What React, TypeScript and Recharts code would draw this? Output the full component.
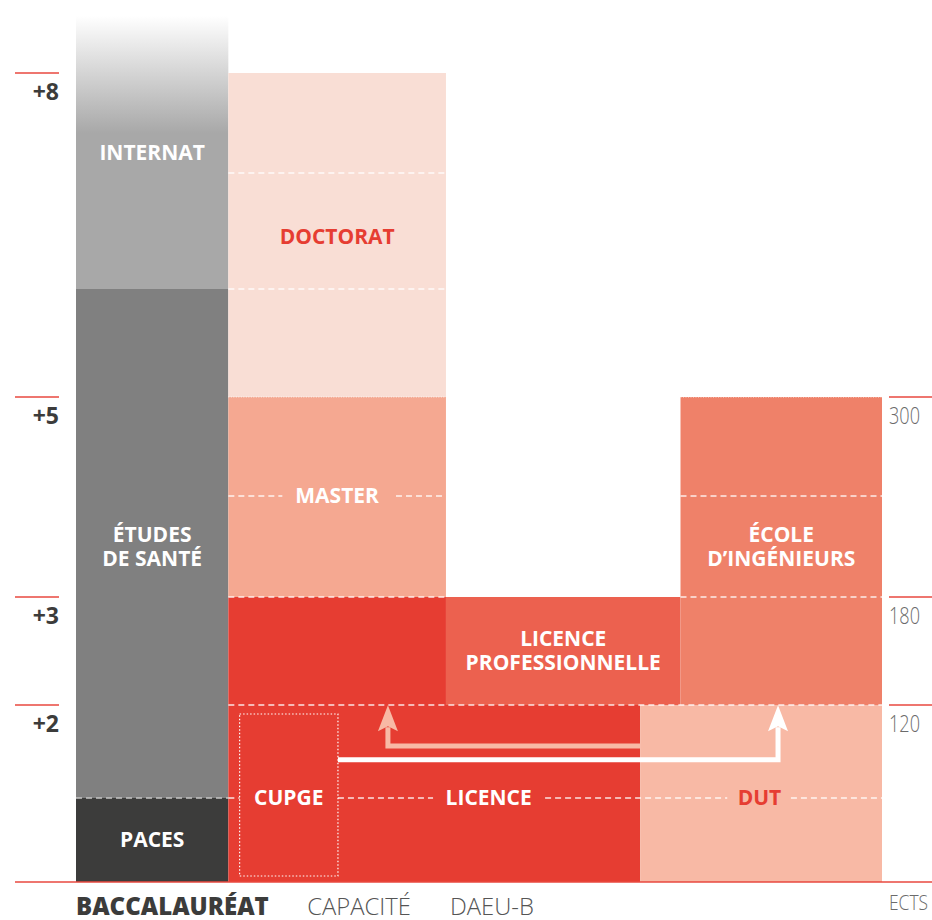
import { ComposedChart, XAxis, YAxis, ReferenceArea, ReferenceLine, ReferenceDot, Line } from 'recharts';

const FONT = '"Open Sans", "Noto Sans", sans-serif';

// years after the bac (left) and ECTS credits (right)
const yearTicks = [0, 2, 3, 5, 8];
const yearLabels = ['', '+2', '+3', '+5', '+8'];
const ectsTicks = [0, 120, 180, 300];
const ectsLabels = ['ECTS', '120', '180', '300'];
const ECTS_PER_YEAR = 60;

// ways in, along the bottom
const entryRoutes = ['BACCALAURÉAT', 'CAPACITÉ', 'DAEU-B'];

// programmes: first and last year after the bac
const programNames = [
  'PACES', 'ÉTUDES DE SANTÉ', 'INTERNAT', 'LICENCE', 'LICENCE L3', 'CUPGE',
  'DUT', 'LICENCE PROFESSIONNELLE', 'ÉCOLE D’INGÉNIEURS', 'MASTER', 'DOCTORAT',
];
const programFrom = [0, 1, 6, 0, 2, 0, 0, 2, 2, 3, 5];
const programTo = [1, 6, 8.55, 2, 3, 2, 2, 3, 5, 5, 8];

// passerelles
const dutToLicence = [{ x: 70, y: 1.56 }, { x: 38.7, y: 1.56 }, { x: 38.7, y: 1.76 }];
const cupgeToEcole = [{ x: 32.5, y: 1.41 }, { x: 87.1, y: 1.41 }, { x: 87.1, y: 1.76 }];

// ---- layout ----
// the drawing gives each year a slightly different height
const yearKnots = [0, 1, 2, 3, 4, 5, 6, 7, 8, 8.7];
const yearHeights = [84, 93, 108, 101, 99, 108, 116, 100, 73];
const entryX = [0, 28.7, 46.4];

const RED = '#e63d32';
const programStyle = [
  { x1: 0, x2: 18.9, fill: '#3c3c3b' },
  { x1: 0, x2: 18.9, fill: '#808080' },
  { x1: 0, x2: 18.9, fill: 'fade' },
  { x1: 18.9, x2: 70, fill: RED },
  { x1: 18.9, x2: 45.9, fill: RED },
  { x1: 20.3, x2: 32.5, fill: 'box' },
  { x1: 70, x2: 100, fill: '#f8b9a5' },
  { x1: 45.9, x2: 75, fill: '#ec614f' },
  { x1: 75, x2: 100, fill: '#ef8169' },
  { x1: 18.9, x2: 45.9, fill: '#f5a891' },
  { x1: 18.9, x2: 45.9, fill: '#f9ded5' },
];

const labels = [
  { lines: ['PACES'], x: 9.45, y: 0.5, color: '#fff' },
  { lines: ['ÉTUDES', 'DE SANTÉ'], x: 9.45, y: 3.5, color: '#fff' },
  { lines: ['INTERNAT'], x: 9.45, y: 7.2, color: '#fff' },
  { lines: ['CUPGE'], x: 26.4, y: 1, color: '#fff' },
  { lines: ['LICENCE'], x: 51.2, y: 1, color: '#fff' },
  { lines: ['DUT'], x: 84.8, y: 1, color: RED },
  { lines: ['LICENCE', 'PROFESSIONNELLE'], x: 60.45, y: 2.5, color: '#fff' },
  { lines: ['ÉCOLE', 'D’INGÉNIEURS'], x: 87.5, y: 3.5, color: '#fff' },
  { lines: ['MASTER'], x: 32.4, y: 4, color: '#fff' },
  { lines: ['DOCTORAT'], x: 32.4, y: 6.45, color: RED },
];

const W = 'rgba(255,255,255,0.85)';
const dashes = [
  { y: 1, from: 0, to: 18.9, stroke: '#c4c4c4' },
  { y: 1, from: 18.9, to: 20.3, stroke: W },
  { y: 1, from: 32.5, to: 44.3, stroke: W },
  { y: 1, from: 58.2, to: 80.8, stroke: W },
  { y: 1, from: 88.7, to: 100, stroke: W },
  { y: 2, from: 18.9, to: 100, stroke: W },
  { y: 3, from: 18.9, to: 45.9, stroke: W },
  { y: 3, from: 75, to: 100, stroke: W },
  { y: 4, from: 18.9, to: 25.6, stroke: W },
  { y: 4, from: 39.7, to: 45.9, stroke: W },
  { y: 4, from: 75, to: 100, stroke: W },
  { y: 5, from: 18.9, to: 45.9, stroke: W, dot: true },
  { y: 5, from: 75, to: 100, stroke: W, dot: true },
  { y: 6, from: 18.9, to: 45.9, stroke: W },
  { y: 7, from: 18.9, to: 45.9, stroke: W },
];

// piecewise linear scale that Recharts can use like a d3 scale
function pieceScale(knots: number[], heights: number[]) {
  const cum = heights.reduce((acc, h) => [...acc, acc[acc.length - 1] + h], [0]);
  const total = cum[cum.length - 1];
  const make = (d0: number[], r0: number[]): any => {
    let dom = d0.slice();
    let rng = r0.slice();
    const s: any = (v: number) => {
      let i = 0;
      while (i < knots.length - 2 && v > knots[i + 1]) i++;
      const t = (cum[i] + ((v - knots[i]) / (knots[i + 1] - knots[i])) * (cum[i + 1] - cum[i])) / total;
      return rng[0] + t * (rng[1] - rng[0]);
    };
    s.domain = (d?: number[]) => {
      if (d === undefined) return dom.slice();
      dom = d.slice();
      return s;
    };
    s.range = (r?: number[]) => {
      if (r === undefined) return rng.slice();
      rng = r.slice();
      return s;
    };
    s.copy = () => make(dom, rng);
    s.ticks = () => knots.slice(0, -1);
    s.tickFormat = () => (v: number) => String(v);
    s.clamp = () => s;
    s.nice = () => s;
    s.invert = (px: number) => {
      const t = ((px - rng[0]) / (rng[1] - rng[0])) * total;
      let i = 0;
      while (i < cum.length - 2 && t > cum[i + 1]) i++;
      return knots[i] + ((t - cum[i]) / (cum[i + 1] - cum[i])) * (knots[i + 1] - knots[i]);
    };
    return s;
  };
  return make([knots[0], knots[knots.length - 1]], [0, 1]);
}

const yearScale = pieceScale(yearKnots, yearHeights);
const ectsScale = pieceScale(yearKnots.map((k) => k * ECTS_PER_YEAR), yearHeights);

const LeftTick = (props: any) => {
  const { x, y, payload } = props;
  const i = yearTicks.indexOf(payload.value);
  if (payload.value === 0) {
    return <line x1={x - 61} x2={x + 856} y1={y} y2={y} stroke="#e8493f" strokeWidth={1.4} />;
  }
  return (
    <g>
      <line x1={x - 61} x2={x - 17} y1={y} y2={y} stroke="#e8493f" strokeWidth={1.4} />
      <text x={x - 17} y={y + 27} textAnchor="end" fontFamily={FONT} fontWeight={700} fontSize={23} fill="#3c3c3b">
        {yearLabels[i]}
      </text>
    </g>
  );
};

const RightTick = (props: any) => {
  const { x, y, payload } = props;
  const i = ectsTicks.indexOf(payload.value);
  if (payload.value === 0) {
    return (
      <text x={x + 7} y={y + 28} fontFamily={FONT} fontWeight={300} fontSize={21} fill="#6b6b6b" textLength={39} lengthAdjust="spacingAndGlyphs">
        {ectsLabels[i]}
      </text>
    );
  }
  return (
    <g>
      <line x1={x + 7} x2={x + 50} y1={y} y2={y} stroke="#e8493f" strokeWidth={1.4} />
      <text x={x + 7} y={y + 27} fontFamily={FONT} fontWeight={300} fontSize={23} fill="#6b6b6b" textLength={31} lengthAdjust="spacingAndGlyphs">
        {ectsLabels[i]}
      </text>
    </g>
  );
};

const BottomTick = (props: any) => {
  const { x, y, index } = props;
  const first = index === 0;
  return (
    <text x={x} y={y + 33} fontFamily={FONT} fontWeight={first ? 800 : 300} fontSize={first ? 24 : 23.8} fill={first ? '#3c3c3b' : '#555'}>
      {entryRoutes[index]}
    </text>
  );
};

const blockShape = (fill: string) => (p: any) => {
  if (fill === 'fade') {
    return (
      <g>
        <defs>
          <linearGradient id="internatFade" x1="0" y1="0" x2="0" y2="1">
            <stop offset="0" stopColor="#a8a8a8" stopOpacity={0} />
            <stop offset="0.43" stopColor="#a8a8a8" stopOpacity={1} />
            <stop offset="1" stopColor="#a8a8a8" stopOpacity={1} />
          </linearGradient>
        </defs>
        <rect x={p.x} y={p.y} width={p.width} height={p.height} fill="url(#internatFade)" />
      </g>
    );
  }
  if (fill === 'box') {
    return (
      <rect x={p.x} y={p.y + 9} width={p.width} height={p.height - 15} fill={RED} stroke="#fff" strokeWidth={1.2} strokeDasharray="1.5 2" />
    );
  }
  return <rect x={p.x} y={p.y} width={p.width} height={p.height} fill={fill} />;
};

const labelShape = (lines: string[], color: string) => (p: any) => (
  <g>
    {lines.map((l, i) => (
      <text
        key={i}
        x={p.cx}
        y={p.cy + (i - (lines.length - 1) / 2) * 24 - 1}
        textAnchor="middle"
        dominantBaseline="central"
        fontFamily={FONT}
        fontWeight={700}
        fontSize={21}
        fill={color}
      >
        {l}
      </text>
    ))}
  </g>
);

const arrowDot = (color: string, last: number) => (p: any) => {
  if (p.index !== last) return <g key={`d${p.index}`} />;
  const { cx, cy } = p;
  return (
    <polygon
      key={`d${p.index}`}
      points={`${cx},${cy - 22} ${cx + 10},${cy + 4} ${cx},${cy - 1} ${cx - 10},${cy + 4}`}
      fill={color}
    />
  );
};

export default function App() {
  return (
    <div style={{ position: 'absolute', left: 0, top: 0, fontFamily: FONT, background: '#fff' }}>
      <ComposedChart width={932} height={920} margin={{ top: 0, right: 0, bottom: 0, left: 0 }}>
        <XAxis
          type="number"
          dataKey="x"
          domain={[0, 100]}
          allowDataOverflow
          ticks={entryX}
          interval={0}
          tick={<BottomTick />}
          tickSize={0}
          tickMargin={0}
          axisLine={false}
          tickLine={false}
          height={38}
        />
        <YAxis
          type="number"
          domain={[0, 8.7]}
          allowDataOverflow
          scale={yearScale}
          ticks={yearTicks}
          interval={0}
          tick={<LeftTick />}
          tickSize={0}
          tickMargin={0}
          axisLine={false}
          tickLine={false}
          width={76}
        />
        <YAxis
          yAxisId="ects"
          orientation="right"
          type="number"
          domain={[0, 8.7 * ECTS_PER_YEAR]}
          allowDataOverflow
          scale={ectsScale}
          ticks={ectsTicks}
          interval={0}
          tick={<RightTick />}
          tickSize={0}
          tickMargin={0}
          axisLine={false}
          tickLine={false}
          width={50}
        />
        {programNames.map((name, i) => (
          <ReferenceArea
            key={name}
            x1={programStyle[i].x1}
            x2={programStyle[i].x2}
            y1={programFrom[i]}
            y2={programTo[i]}
            ifOverflow="visible"
            shape={blockShape(programStyle[i].fill)}
          />
        ))}
        {dashes.map((d, i) => (
          <ReferenceLine
            key={`l${i}`}
            segment={[{ x: d.from, y: d.y }, { x: d.to, y: d.y }]}
            stroke={d.stroke}
            strokeWidth={d.dot ? 1 : 1.4}
            strokeDasharray={d.dot ? '1 1.5' : '6 4'}
            ifOverflow="visible"
          />
        ))}
        <Line
          data={dutToLicence}
          dataKey="y"
          type="linear"
          stroke="#f8b9a5"
          strokeWidth={5}
          strokeLinejoin="miter"
          dot={arrowDot('#f8b9a5', dutToLicence.length - 1)}
          activeDot={false}
          isAnimationActive={false}
        />
        <Line
          data={cupgeToEcole}
          dataKey="y"
          type="linear"
          stroke="#fff"
          strokeWidth={5}
          strokeLinejoin="miter"
          dot={arrowDot('#fff', cupgeToEcole.length - 1)}
          activeDot={false}
          isAnimationActive={false}
        />
        {labels.map((l, i) => (
          <ReferenceDot key={`t${i}`} x={l.x} y={l.y} r={0} ifOverflow="visible" shape={labelShape(l.lines, l.color)} />
        ))}
      </ComposedChart>
    </div>
  );
}
